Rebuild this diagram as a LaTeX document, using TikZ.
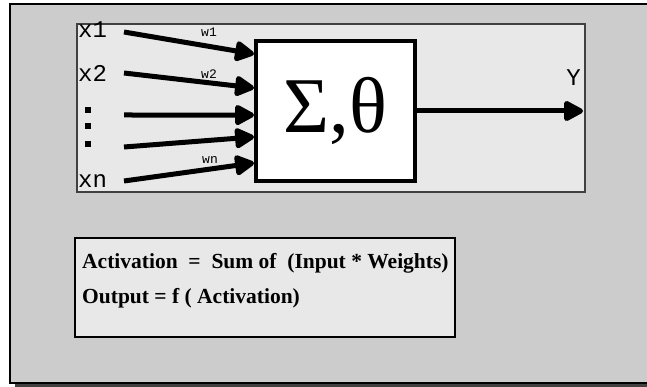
\documentclass[tikz,border=0pt]{standalone}
\usepackage{fontspec}
\setmainfont{Liberation Serif}
\newfontfamily\labelfont{Liberation Mono}
\usetikzlibrary{arrows.meta,calc}
\definecolor{panelgray}{HTML}{CCCCCC}
\definecolor{lightpanel}{HTML}{E8E8E8}
\definecolor{shadowgray}{HTML}{404040}

\begin{document}
\begin{tikzpicture}[
    x=1pt, y=-1pt,
    panel/.style={draw=black, line width=2pt, fill=panelgray},
    inbox/.style={draw=shadowgray, line width=1.5pt, fill=lightpanel},
    neuron/.style={draw=black, line width=4pt, fill=white, inner sep=0pt,
        minimum width=159pt, minimum height=140pt,
        font=\fontsize{79}{84}\selectfont},
    inlabel/.style={inner sep=0pt, font=\labelfont\fontsize{24}{26}\selectfont},
    wlabel/.style={inner sep=0pt, font=\labelfont\fontsize{13}{14}\selectfont},
    formula/.style={inner sep=0pt, font=\bfseries\fontsize{21.5}{24}\selectfont},
    arr/.style={line width=5pt, -{Triangle[length=22pt,width=22pt,round]}}
]
\useasboundingbox (0,0) rectangle (647,387);

% panels
\fill[shadowgray] (15,8) rectangle (665,387);
\draw[panel] (10,4) rectangle (660,383);
\draw[inbox] (77,24) rectangle (585,192);

% summing unit
\node[neuron] (sum) at (335.5,111) {Σ,θ};

% inputs
\node[inlabel, anchor=base west] (x1) at (78,38)  {x1};
\node[inlabel, anchor=base west] (x2) at (78,82)  {x2};
\node[inlabel, anchor=base west] (xn) at (78,188) {xn};
\foreach \i/\y in {1/110, 2/126.5, 3/144.5}
    \fill (85,\y-3) rectangle (91,\y+3) coordinate (dot\i);

\coordinate (s1) at (124,32);
\coordinate (s2) at (124,73);
\coordinate (s3) at (124,115);
\coordinate (s4) at (124,147);
\coordinate (s5) at (124,181);

\draw[arr] (s1) -- ($(sum.north west)!0.104!(sum.south west)$);
\draw[arr] (s2) -- ($(sum.north west)!0.34!(sum.south west)$);
\draw[arr] (s3) -- ($(sum.north west)!0.528!(sum.south west)$);
\draw[arr] (s4) -- ($(sum.north west)!0.68!(sum.south west)$);
\draw[arr] (s5) -- ($(sum.north west)!0.861!(sum.south west)$);

\node[wlabel] (w1) at (209,32)  {w1};
\node[wlabel] (w2) at (209,74)  {w2};
\node[wlabel] (wn) at (210,160) {wn};

% output
\coordinate (out) at (583,111);
\draw[arr] (sum.east) -- (out);
\node[inlabel, anchor=base east] (y) at (581,86) {Y};

% formulas
\draw[inbox, draw=black, line width=2pt] (75,238) rectangle (455,337);
\node[formula, anchor=base west] (act) at (82,268)
    {Activation\ \ =\ \ Sum of\ \ (Input * Weights)};
\node[formula, anchor=base west] (outp) at (82,303)
    {Output = f ( Activation)};
\end{tikzpicture}
\end{document}
